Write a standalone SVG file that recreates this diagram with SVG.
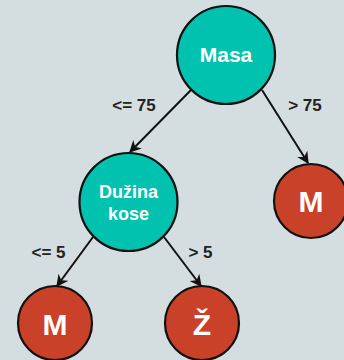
<svg xmlns="http://www.w3.org/2000/svg" width="344" height="360" viewBox="0 0 344 360">
<style>
.bg{fill:#d4dde0}
.teal{fill:#00c2ae;stroke:#111;stroke-width:2.2}
.red{fill:#c94129;stroke:#111;stroke-width:2.2}
.nt{font-family:"Liberation Sans",Arial,sans-serif;font-weight:bold;fill:#fff;text-anchor:middle}
.el{font-family:"Liberation Sans",Arial,sans-serif;font-size:17px;font-weight:bold;fill:#222;text-anchor:middle}
.edge{stroke:#111;stroke-width:2;fill:none;marker-end:url(#arr)}
</style>
<defs>
<marker id="arr" viewBox="0 0 10 10" refX="9" refY="5" markerWidth="6" markerHeight="6" markerUnits="strokeWidth" orient="auto">
<path d="M0,0 L10,5 L0,10 L3,5 z" fill="#111"/>
</marker>
</defs>
<rect class="bg" x="0" y="0" width="344" height="360"/>
<g id="connectors">
<line class="edge" x1="191" y1="90" x2="130" y2="152"/>
<line class="edge" x1="262" y1="90" x2="308" y2="163"/>
<line class="edge" x1="93" y1="237" x2="57" y2="286"/>
<line class="edge" x1="164" y1="237" x2="201" y2="286"/>
<text class="el" x="134" y="111">&lt;= 75</text>
<text class="el" x="305" y="111">&gt; 75</text>
<text class="el" x="48.5" y="258">&lt;= 5</text>
<text class="el" x="200.5" y="258">&gt; 5</text>
</g>
<g id="masa">
<circle class="teal" cx="226" cy="55" r="49"/>
<text class="nt" x="226" y="62" font-size="21">Masa</text>
</g>
<g id="duzina">
<circle class="teal" cx="128.5" cy="202" r="49"/>
<text class="nt" x="128.5" y="198" font-size="18">Dužina</text>
<text class="nt" x="128.5" y="220" font-size="18">kose</text>
</g>
<g id="m-right">
<circle class="red" cx="311" cy="201" r="37"/>
<text class="nt" x="311" y="212" font-size="30">M</text>
</g>
<g id="m-left">
<circle class="red" cx="55" cy="323" r="37"/>
<text class="nt" x="55" y="335" font-size="30">M</text>
</g>
<g id="z">
<circle class="red" cx="202" cy="323" r="37"/>
<text class="nt" x="202" y="335" font-size="30">Ž</text>
</g>
</svg>
